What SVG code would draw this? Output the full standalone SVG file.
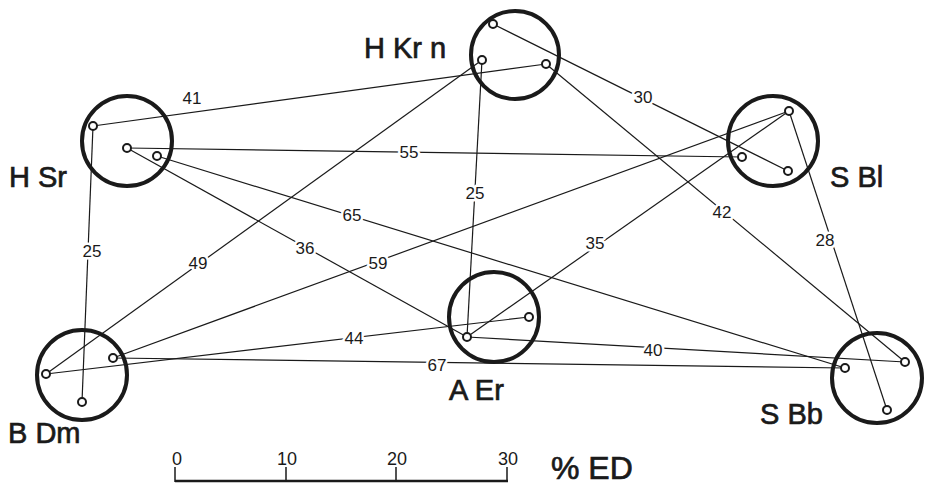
<svg xmlns="http://www.w3.org/2000/svg" width="926" height="487" viewBox="0 0 926 487">
<style>
.ring{fill:none;stroke:#1a1a1a;stroke-width:4}
.dot{fill:#fff;stroke:#1a1a1a;stroke-width:2}
.ln{stroke:#1a1a1a;stroke-width:1.2;fill:none}
.nl{font-family:"Liberation Sans",Arial,sans-serif;font-size:29px;fill:#1a1a1a;stroke:#1a1a1a;stroke-width:0.7px}
.el{font-family:"Liberation Sans",Arial,sans-serif;font-size:17px;fill:#1a1a1a;text-anchor:middle;dominant-baseline:central;paint-order:stroke;stroke:#fff;stroke-width:5px;stroke-linejoin:round}
.sc{font-family:"Liberation Sans",Arial,sans-serif;font-size:18px;fill:#1a1a1a;text-anchor:middle}
</style>
<rect width="926" height="487" fill="#fff"/>
<g id="connectors">
<line class="ln" x1="93" y1="126" x2="546" y2="64"/>
<line class="ln" x1="493" y1="24" x2="788" y2="171"/>
<line class="ln" x1="127" y1="148" x2="742" y2="157"/>
<line class="ln" x1="93" y1="126" x2="82" y2="402"/>
<line class="ln" x1="482" y1="60" x2="467" y2="337"/>
<line class="ln" x1="46" y1="374" x2="482" y2="60"/>
<line class="ln" x1="113" y1="358" x2="789" y2="111"/>
<line class="ln" x1="127" y1="148" x2="467" y2="337"/>
<line class="ln" x1="157" y1="156" x2="845" y2="368"/>
<line class="ln" x1="467" y1="337" x2="789" y2="111"/>
<line class="ln" x1="546" y1="64" x2="905" y2="362"/>
<line class="ln" x1="789" y1="111" x2="887" y2="410"/>
<line class="ln" x1="46" y1="374" x2="529" y2="317"/>
<line class="ln" x1="113" y1="358" x2="845" y2="368"/>
<line class="ln" x1="467" y1="337" x2="905" y2="362"/>
<text class="el" x="192" y="98">41</text>
<text class="el" x="643" y="97">30</text>
<text class="el" x="409" y="152">55</text>
<text class="el" x="92" y="251">25</text>
<text class="el" x="475" y="193">25</text>
<text class="el" x="198" y="263">49</text>
<text class="el" x="378" y="263">59</text>
<text class="el" x="305" y="248">36</text>
<text class="el" x="352" y="215">65</text>
<text class="el" x="595" y="243">35</text>
<text class="el" x="722" y="212">42</text>
<text class="el" x="825" y="240">28</text>
<text class="el" x="354" y="338">44</text>
<text class="el" x="437" y="365">67</text>
<text class="el" x="653" y="350">40</text>
</g>
<g id="HKrn">
<circle class="ring" cx="515" cy="55" r="44"/>
<circle class="dot" cx="493" cy="24" r="4"/>
<circle class="dot" cx="482" cy="60" r="4"/>
<circle class="dot" cx="546" cy="64" r="4"/>
<text class="nl" x="364" y="58">H Kr n</text>
</g>
<g id="HSr">
<circle class="ring" cx="127" cy="141" r="45"/>
<circle class="dot" cx="93" cy="126" r="4"/>
<circle class="dot" cx="127" cy="148" r="4"/>
<circle class="dot" cx="157" cy="156" r="4"/>
<text class="nl" x="9" y="187">H Sr</text>
</g>
<g id="SBl">
<circle class="ring" cx="773" cy="141" r="45"/>
<circle class="dot" cx="789" cy="111" r="4"/>
<circle class="dot" cx="742" cy="157" r="4"/>
<circle class="dot" cx="788" cy="171" r="4"/>
<text class="nl" x="830" y="187">S Bl</text>
</g>
<g id="BDm">
<circle class="ring" cx="82" cy="375" r="45"/>
<circle class="dot" cx="46" cy="374" r="4"/>
<circle class="dot" cx="113" cy="358" r="4"/>
<circle class="dot" cx="82" cy="402" r="4"/>
<text class="nl" x="8" y="443">B Dm</text>
</g>
<g id="AEr">
<circle class="ring" cx="494" cy="317" r="45"/>
<circle class="dot" cx="529" cy="317" r="4"/>
<circle class="dot" cx="467" cy="337" r="4"/>
<text class="nl" x="449" y="400">A Er</text>
</g>
<g id="SBb">
<circle class="ring" cx="877" cy="378" r="45"/>
<circle class="dot" cx="905" cy="362" r="4"/>
<circle class="dot" cx="845" cy="368" r="4"/>
<circle class="dot" cx="887" cy="410" r="4"/>
<text class="nl" x="760" y="424">S Bb</text>
</g>
<g id="scale">
<line x1="175" y1="481" x2="508" y2="481" stroke="#1a1a1a" stroke-width="2.5"/>
<line x1="175" y1="467" x2="175" y2="482" stroke="#1a1a1a" stroke-width="1.5"/>
<line x1="286" y1="467" x2="286" y2="482" stroke="#1a1a1a" stroke-width="1.5"/>
<line x1="396" y1="467" x2="396" y2="482" stroke="#1a1a1a" stroke-width="1.5"/>
<line x1="507" y1="467" x2="507" y2="482" stroke="#1a1a1a" stroke-width="1.5"/>
<text class="sc" x="177" y="465">0</text>
<text class="sc" x="287" y="465">10</text>
<text class="sc" x="397" y="465">20</text>
<text class="sc" x="508" y="465">30</text>
<text x="551" y="479" font-family="Liberation Sans, Arial, sans-serif" font-size="32" fill="#1a1a1a" stroke="#1a1a1a" stroke-width="0.7">% ED</text>
</g>
</svg>
